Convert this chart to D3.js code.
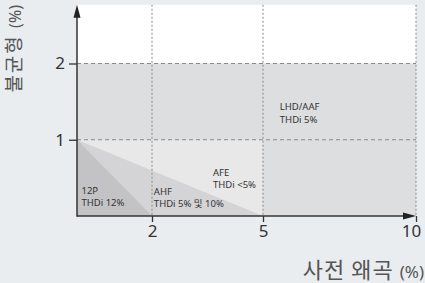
<!DOCTYPE html>
<html><head><meta charset="utf-8">
<script src="https://cdn.jsdelivr.net/npm/d3@7"></script>
<style>
html,body{margin:0;padding:0;background:#e9edf0;}
svg{display:block;}
text{font-family:"Noto Sans","Noto Sans CJK KR",sans-serif;}
</style></head>
<body>
<script>
// Data
const xTicks = [2, 5, 10];
const yTicks = [1, 2];
const xBreaks = [0, 2, 5, 10];
const yMaxVal = 2.77;
const regions = [
  {name: "LHD/AAF", pts: [[0,0],[10,0],[10,2],[0,2]], fill: "#dddee0"},
  {name: "AFE", pts: [[0,0],[5,0],[5,1],[0,1]], fill: "#e8e8e9"},
  {name: "AHF", pts: [[0,0],[5,0],[0,1]], fill: "#d4d4d6"},
  {name: "12P", pts: [[0,0],[2,0],[0,1]], fill: "#c3c3c5"}
];
const labels = [
  {lines: ["12P", "THDi 12%"], x: 0.12, y: 0.29},
  {lines: ["AHF", "THDi 5% 및 10%"], x: 2.05, y: 0.28},
  {lines: ["AFE", "THDi <5%"], x: 3.65, y: 0.53},
  {lines: ["LHD/AAF", "THDi 5%"], x: 5.55, y: 1.39}
];
const xTitle = "사전 왜곡";
const yTitle = "불균형";
const unit = "(%)";

const W = 425, H = 283;
const svg = d3.select("body").append("svg").attr("width", W).attr("height", H);

const x = d3.scaleLinear().domain(xBreaks).range([77, 152, 263, 416]);
const y = d3.scaleLinear().domain([0, 2]).range([216, 63.5]);

// white upper area
svg.append("rect").attr("x", x(0)).attr("y", y(yMaxVal))
  .attr("width", x(10) - x(0)).attr("height", y(2) - y(yMaxVal)).attr("fill", "#ffffff");

const line = d3.line().x(d => x(d[0])).y(d => y(d[1]));
svg.selectAll("path.region").data(regions).join("path")
  .attr("class", "region")
  .attr("d", d => line(d.pts) + "Z")
  .attr("fill", d => d.fill);

// grid
svg.selectAll("line.vg").data(xTicks).join("line")
  .attr("x1", d => x(d)).attr("x2", d => x(d))
  .attr("y1", y(yMaxVal)).attr("y2", y(0))
  .attr("stroke", "#8a8a8a").attr("stroke-width", 1).attr("stroke-dasharray", "2,2");
svg.selectAll("line.hg").data(yTicks).join("line")
  .attr("x1", x(0)).attr("x2", x(10))
  .attr("y1", d => y(d)).attr("y2", d => y(d))
  .attr("stroke", "#8a8a8a").attr("stroke-width", 1).attr("stroke-dasharray", "4,3");

// axes
const xAxis = d3.axisBottom(x).tickValues(xTicks).tickSize(6).tickPadding(3).tickFormat(d3.format("d"));
const gx = svg.append("g").attr("transform", `translate(0,${y(0)})`).call(xAxis);
gx.select(".domain").remove();
gx.selectAll(".tick line").attr("stroke", "#333").attr("stroke-width", 1.3);
gx.selectAll(".tick text").attr("font-size", 17).attr("fill", "#333")
  .attr("dx", (d, i, n) => i === n.length - 1 ? -5 : 0);

const yAxis = d3.axisLeft(y).tickValues(yTicks).tickSize(8).tickPadding(4).tickFormat(d3.format("d"));
const gy = svg.append("g").attr("transform", `translate(${x(0)},0)`).call(yAxis);
gy.select(".domain").remove();
gy.selectAll(".tick line").attr("stroke", "#333").attr("stroke-width", 1.3);
gy.selectAll(".tick text").attr("font-size", 17).attr("fill", "#333");

// axis lines with arrows
svg.append("line").attr("x1", x(0)).attr("x2", x(10) - 8).attr("y1", y(0)).attr("y2", y(0))
  .attr("stroke", "#333").attr("stroke-width", 1.5);
svg.append("line").attr("x1", x(0)).attr("x2", x(0)).attr("y1", y(0) + 0.75).attr("y2", y(yMaxVal) + 8)
  .attr("stroke", "#333").attr("stroke-width", 1.5);
svg.append("path")
  .attr("d", `M${x(10)},${y(0)} L${x(10) - 13},${y(0) - 3.5} L${x(10) - 13},${y(0) + 3.5}Z`)
  .attr("fill", "#222");
svg.append("path")
  .attr("d", `M${x(0)},${y(yMaxVal)} L${x(0) - 3.5},${y(yMaxVal) + 13} L${x(0) + 3.5},${y(yMaxVal) + 13}Z`)
  .attr("fill", "#222");

// region labels
const lg = svg.selectAll("g.lab").data(labels).join("g").attr("class", "lab");
lg.selectAll("text").data(d => d.lines.map((t, i) => ({t, i, x: d.x, y: d.y})))
  .join("text")
  .attr("x", d => x(d.x)).attr("y", d => y(d.y) + d.i * 12.5)
  .attr("font-size", 9.5).attr("fill", "#333")
  .text(d => d.t);

// axis titles
const xt = svg.append("text").attr("x", 424).attr("y", 278).attr("text-anchor", "end")
  .attr("fill", "#555").attr("font-size", 22);
xt.append("tspan").attr("font-family", "Noto Sans CJK KR").attr("letter-spacing", 1).text(xTitle + " ");
xt.append("tspan").attr("font-size", 17).text(unit);

const yt = svg.append("text").attr("transform", "translate(21,5) rotate(-90)")
  .attr("text-anchor", "end").attr("fill", "#555").attr("font-size", 19);
yt.append("tspan").attr("font-family", "Noto Sans CJK KR").attr("letter-spacing", 2).text(yTitle + " ");
yt.append("tspan").attr("font-size", 16).text(unit);
</script>
</body></html>
